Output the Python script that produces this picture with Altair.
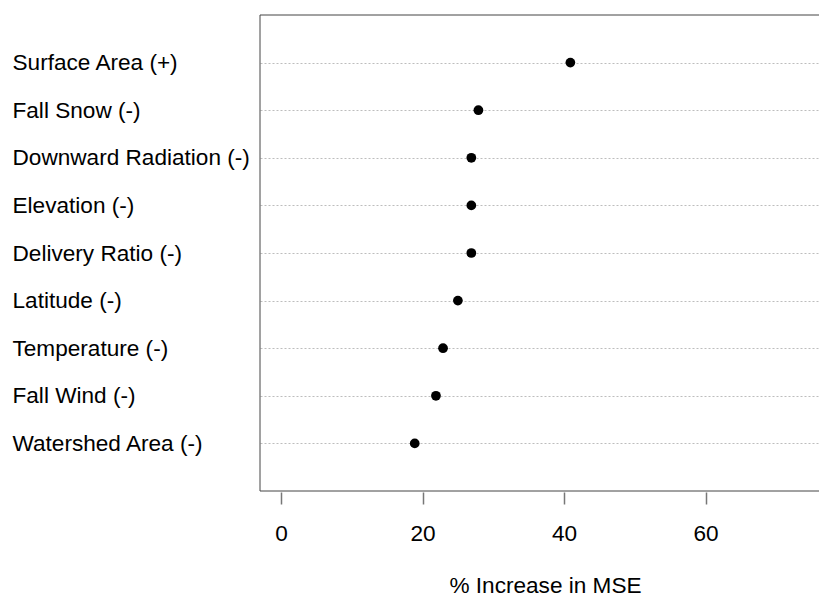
import altair as alt
import pandas as pd

names = ["Surface Area (+)", "Fall Snow (-)", "Downward Radiation (-)", "Elevation (-)",
         "Delivery Ratio (-)", "Latitude (-)", "Temperature (-)", "Fall Wind (-)",
         "Watershed Area (-)"]
values = [40.9, 27.9, 26.9, 26.9, 26.9, 25.0, 22.9, 21.9, 18.9]
x_ticks = [0, 20, 40, 60]

df = pd.DataFrame({"name": names, "value": values})

W, H = 559, 476
FONT = "Liberation Sans"
FS = 22.6

base = alt.Chart(df)

points = base.mark_circle(size=95, color="black", opacity=1).encode(
    x=alt.X("value:Q",
            scale=alt.Scale(domain=[-2.97, 76.04], nice=False, zero=False),
            axis=alt.Axis(values=x_ticks, offset=1, domain=False, grid=False,
                          tickSize=12, tickColor="#777777", tickWidth=1.5,
                          labelFontSize=FS, labelFont=FONT, labelColor="black",
                          labelPadding=18,
                          title="% Increase in MSE", titleFontSize=FS, titleFont=FONT,
                          titleFontWeight="normal", titleColor="black",
                          titlePadding=30, titleX=285)),
    y=alt.Y("name:N", sort=names,
            scale=alt.Scale(type="point", padding=1),
            axis=alt.Axis(title=None, labelAlign="left", labelPadding=248,
                          ticks=False, tickSize=0, domain=False,
                          grid=True, gridDash=[2, 2], gridColor="#bdbdbd",
                          labelFontSize=FS, labelFont=FONT, labelColor="black",
                          labelLimit=0)),
)

frame_df = pd.DataFrame({"k": [0]})
LINE = "#444444"
top_line = alt.Chart(frame_df).mark_rule(color=LINE, strokeWidth=1).encode(
    x=alt.value(0), x2=alt.value(W), y=alt.value(0))
bottom_line = alt.Chart(frame_df).mark_rule(color=LINE, strokeWidth=1).encode(
    x=alt.value(0), x2=alt.value(W), y=alt.value(H))
left_line = alt.Chart(frame_df).mark_rule(color=LINE, strokeWidth=1).encode(
    x=alt.value(0), y=alt.value(0), y2=alt.value(H))

chart = alt.layer(points, top_line, bottom_line, left_line).properties(
    width=W, height=H,
    autosize=alt.AutoSizeParams(type="none"),
    padding={"left": 260, "top": 15, "right": 1, "bottom": 106},
    view=alt.ViewBackground(stroke="transparent", strokeWidth=0, strokeOpacity=0),
).configure_view(stroke="transparent", strokeWidth=0, strokeOpacity=0).configure(background="white")

chart.save("out.html", embed_options={"renderer": "svg", "actions": False})
